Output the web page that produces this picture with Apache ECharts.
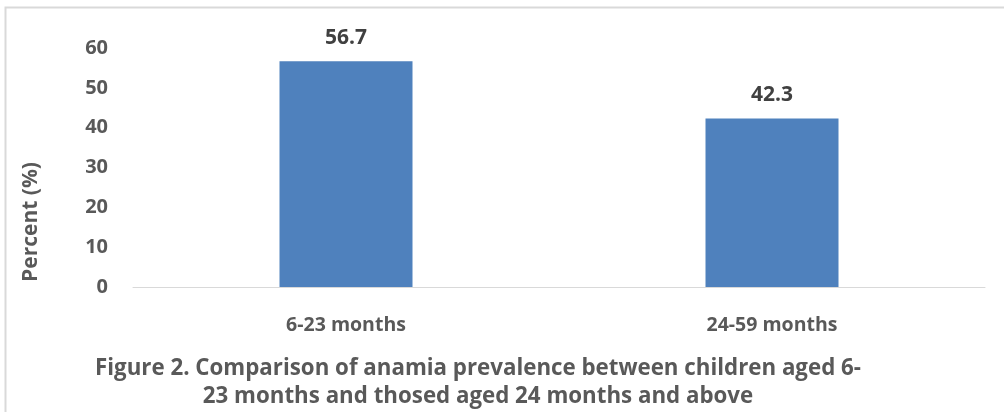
<!DOCTYPE html>
<html><head><meta charset="utf-8">
<script src="https://cdn.jsdelivr.net/npm/echarts@6/dist/echarts.min.js"></script>
<style>html,body{margin:0;padding:0;background:#fff}#c{width:1004px;height:412px}</style>
</head><body><div id="c"></div>
<script>
const categories = ['6-23 months', '24-59 months'];
const values = [56.7, 42.3];
const yTicks = [0, 10, 20, 30, 40, 50, 60];
const titleLines = ['Figure 2. Comparison of anamia prevalence between children aged 6-', '23 months and thosed aged 24 months and above'];
const yName = 'Percent (%)';

const FONT = '"Open Sans", "Noto Sans", sans-serif';
const chart = echarts.init(document.getElementById('c'), null, {renderer: 'canvas'});
chart.setOption({
  animation: false,
  backgroundColor: '#ffffff',
  title: {
    text: titleLines.join('\n'),
    left: 473, top: 350, textAlign: 'center',
    textStyle: {fontFamily: FONT, fontWeight: 'bold', fontSize: 22.3, color: '#595959', lineHeight: 28}
  },
  grid: {left: 133, right: 19, top: 48, bottom: 125, containLabel: false},
  xAxis: {
    type: 'category', data: categories,
    axisLine: {lineStyle: {color: '#d9d9d9', width: 1}},
    axisTick: {show: false},
    axisLabel: {fontFamily: FONT, fontWeight: 'bold', fontSize: 19.5, color: '#595959', margin: 28}
  },
  yAxis: {
    type: 'value', min: yTicks[0], max: yTicks[yTicks.length - 1], interval: 10,
    axisLine: {show: false}, axisTick: {show: false}, splitLine: {show: false},
    axisLabel: {fontFamily: FONT, fontWeight: 'bold', fontSize: 20, color: '#595959', margin: 25}
  },
  graphic: [
    {type: 'rect', shape: {x: 5.5, y: 7.5, width: 1010, height: 420}, style: {fill: 'none', stroke: '#d9d9d9', lineWidth: 2}, silent: true},
    {type: 'text', x: 31, y: 222, rotation: Math.PI / 2,
     style: {text: yName, fontFamily: FONT, fontWeight: 'bold', fontSize: 21, fill: '#595959', textAlign: 'center', textVerticalAlign: 'middle'}}
  ],
  series: [{
    type: 'bar', data: values, barWidth: 133,
    itemStyle: {color: '#4f81bd'},
    label: {show: true, position: 'top', distance: 13, fontFamily: FONT, fontWeight: 'bold', fontSize: 21, color: '#404040'}
  }]
});
</script></body></html>
